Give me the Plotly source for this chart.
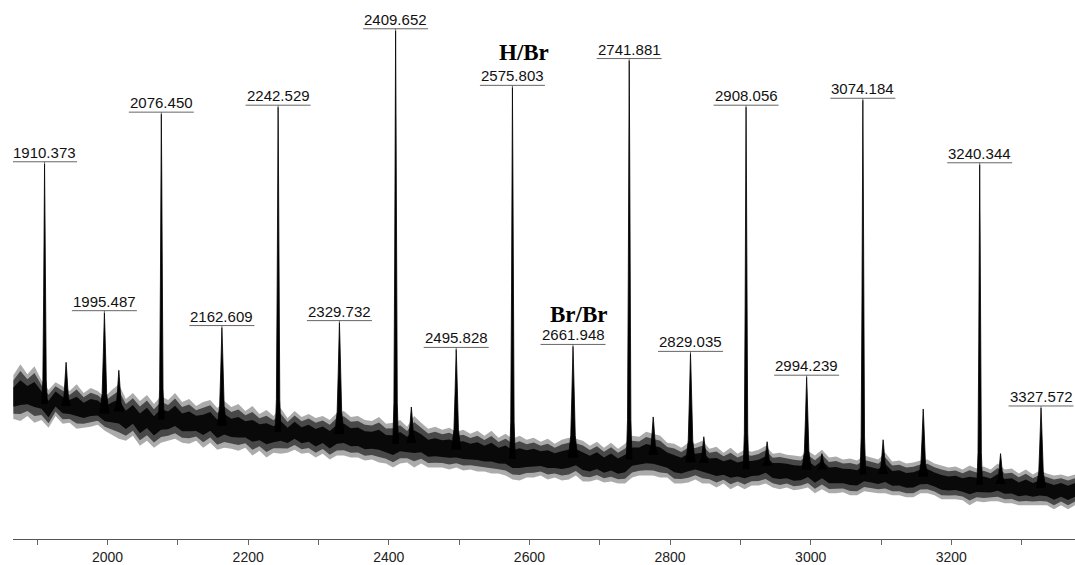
import numpy as np
import plotly.graph_objects as go

# Labelled peaks (m/z and intensity, a.u.)
peak_mz = [1910.373, 1995.487, 2076.450, 2162.609, 2242.529, 2329.732,
           2409.652, 2495.828, 2575.803, 2661.948, 2741.881, 2829.035,
           2908.056, 2994.239, 3074.184, 3240.344, 3327.572]
peak_int = [3780, 2280, 4280, 2130, 4350, 2180, 5120, 1910, 4550,
            1940, 4820, 1870, 4350, 1630, 4420, 3770, 1320]
peak_labels = ["1910.373", "1995.487", "2076.450", "2162.609", "2242.529",
               "2329.732", "2409.652", "2495.828", "2575.803", "2661.948",
               "2741.881", "2829.035", "2908.056", "2994.239", "3074.184",
               "3240.344", "3327.572"]

# Small unlabelled peaks
minor_mz = [1941, 2016, 2432, 2776, 2848, 2938, 3016, 3103, 3160, 3270]
minor_int = [1780, 1700, 1330, 1230, 1030, 980, 860, 1000, 1310, 860]

# Baseline noise envelope (upper / lower extent), every 10 m/z from 1866
band_start, band_step = 1866, 10
band_hi = [
    1650, 1760, 1660, 1740, 1600, 1500, 1580, 1540, 1490, 1560,
    1470, 1520, 1490, 1430, 1500, 1560, 1410, 1470, 1390, 1450,
    1360, 1440, 1400, 1470, 1380, 1410, 1340, 1380, 1400, 1320,
    1390, 1330, 1360, 1290, 1340, 1260, 1300, 1240, 1320, 1220,
    1290, 1230, 1260, 1220, 1240, 1200, 1270, 1290, 1230, 1240,
    1200, 1190, 1230, 1160, 1170, 1200, 1130, 1240, 1170, 1110,
    1130, 1100, 1120, 1080, 1100, 1060, 1090, 1040, 1090, 1020,
    1060, 1010, 1040, 1000, 1020, 980, 1010, 960, 1000, 1020,
    1010, 990, 940, 980, 920, 970, 910, 960, 1040, 1030,
    1080, 1060, 1040, 970, 960, 920, 970, 960, 990, 910,
    930, 870, 920, 860, 900, 880, 900, 940, 860, 870,
    850, 840, 830, 890, 840, 900, 820, 830, 800, 810,
    790, 840, 820, 800, 870, 780, 790, 760, 770, 790,
    800, 760, 740, 720, 730, 700, 740, 710, 730, 700,
    760, 700, 710, 660, 700, 650, 690, 660, 640, 650,
    630, 650,
]
band_lo = [
    1210, 1190, 1240, 1170, 1200, 1120, 1240, 1160, 1170, 1110,
    1120, 1130, 1150, 1090, 1050, 1010, 990, 1040, 940, 990,
    920, 970, 990, 1010, 970, 960, 990, 920, 970, 900,
    920, 910, 890, 920, 840, 890, 820, 870, 860, 870,
    900, 860, 870, 820, 860, 800, 840, 840, 820, 820,
    790, 800, 770, 760, 720, 760, 770, 720, 760, 720,
    720, 720, 700, 720, 690, 700, 680, 680, 660, 660,
    640, 600, 590, 620, 620, 640, 600, 620, 590, 600,
    640, 580, 580, 600, 570, 580, 560, 560, 620, 640,
    640, 640, 620, 620, 560, 560, 570, 600, 560, 560,
    520, 560, 500, 540, 500, 540, 540, 560, 520, 500,
    520, 490, 500, 520, 460, 500, 460, 460, 470, 440,
    440, 480, 470, 460, 460, 440, 440, 420, 420, 460,
    460, 440, 400, 400, 400, 390, 340, 380, 370, 380,
    380, 360, 360, 340, 340, 340, 340, 340, 300, 340,
    300, 340,
]
band_mz = [band_start + band_step * i for i in range(len(band_hi))]

# Axis ticks
tick_vals = [1900, 2000, 2100, 2200, 2300, 2400, 2500, 2600, 2700, 2800,
             2900, 3000, 3100, 3200, 3300]
tick_text = ["", "2000", "", "2200", "", "2400", "", "2600", "", "2800",
             "", "3000", "", "3200", ""]

# Group annotations
group_text = ["H/Br", "Br/Br"]
group_mz = [2592, 2670]
group_int = [4905, 2260]

X_RANGE = [1865.5, 3375.9]
Y_RANGE = [0, 5430]
# shading layers of the noise band: (half-thickness fraction, opacity)
BAND_LAYERS = [(0.5, 0.33), (0.38, 0.58), (0.22, 0.88)]


def peak_polygons(mzs, tops, widths):
    """Filled peak outline: half-widths (m/z) at fractions of peak height."""
    xs, ys = [], []
    for m, t in zip(mzs, tops):
        lo = float(np.interp(m, band_mz, band_lo))
        hi = float(np.interp(m, band_mz, band_hi))
        foot = 0.5 * (lo + hi)
        left_x, left_y = [], []
        for frac, hw in widths:
            left_x.append(m - hw)
            left_y.append(foot + frac * (t - foot))
        xs += left_x + [m] + [2 * m - v for v in left_x[::-1]] + [None]
        ys += left_y + [t] + left_y[::-1] + [None]
    return xs, ys


fig = go.Figure()

# noise band, drawn as nested shaded layers around its centre line
mid = [(h + l) / 2 for h, l in zip(band_hi, band_lo)]
span = [h - l for h, l in zip(band_hi, band_lo)]
for frac, alpha in BAND_LAYERS:
    top = [c + frac * s for c, s in zip(mid, span)]
    bot = [c - frac * s for c, s in zip(mid, span)]
    fig.add_trace(go.Scatter(
        x=band_mz + band_mz[::-1], y=top + bot[::-1],
        fill="toself", fillcolor="rgba(0,0,0,%.2f)" % alpha, mode="lines",
        line=dict(width=0), hoverinfo="skip", showlegend=False))

# peaks
tall_w = [(0.0, 4.0), (0.1, 2.4), (0.45, 1.3), (0.8, 0.6)]
small_w = [(0.0, 6.5), (0.2, 3.2), (0.55, 1.7), (0.85, 0.7)]
tall = [(m, t) for m, t in zip(peak_mz, peak_int) if t > 3000]
small = [(m, t) for m, t in zip(peak_mz, peak_int) if t <= 3000]
small += list(zip(minor_mz, minor_int))
for group, w in ((tall, tall_w), (small, small_w)):
    gx, gy = peak_polygons([g[0] for g in group], [g[1] for g in group], w)
    fig.add_trace(go.Scatter(
        x=gx, y=gy, mode="lines", fill="toself", fillcolor="black",
        line=dict(color="black", width=0.8), hoverinfo="skip",
        showlegend=False))

LEAD = 2
shapes = []
annotations = []
for m, t, lab in zip(peak_mz, peak_int, peak_labels):
    shapes.append(dict(type="line", xref="x", yref="y", x0=m, x1=m,
                       ysizemode="pixel", yanchor=t, y0=0, y1=LEAD,
                       line=dict(color="#666", width=1)))
    shapes.append(dict(type="line", xref="x", yref="y",
                       xsizemode="pixel", xanchor=m, x0=-32.5, x1=32.5,
                       ysizemode="pixel", yanchor=t, y0=LEAD, y1=LEAD,
                       line=dict(color="#666", width=1)))
    annotations.append(dict(x=m, y=t, xref="x", yref="y", text=lab,
                            showarrow=False, yanchor="bottom", yshift=LEAD - 1,
                            font=dict(family="Liberation Sans, Arial", size=15,
                                      color="#111")))

for txt, m, v in zip(group_text, group_mz, group_int):
    annotations.append(dict(x=m, y=v, xref="x", yref="y", text="<b>%s</b>" % txt,
                            showarrow=False, yanchor="middle",
                            font=dict(family="Liberation Serif, Times New Roman",
                                      size=23, color="black")))

fig.update_layout(
    width=1075, height=565,
    margin=dict(l=13, r=0, t=0, b=22),
    paper_bgcolor="white", plot_bgcolor="white",
    shapes=shapes, annotations=annotations,
    xaxis=dict(range=X_RANGE, showgrid=False, zeroline=False,
               showline=True, linecolor="#555", linewidth=1,
               ticks="outside", ticklen=5, tickwidth=1, tickcolor="#666",
               tickvals=tick_vals, ticktext=tick_text,
               tickfont=dict(family="Liberation Sans, Arial", size=14,
                             color="#222")),
    yaxis=dict(range=Y_RANGE, visible=False),
)

fig.write_html("out.html")
